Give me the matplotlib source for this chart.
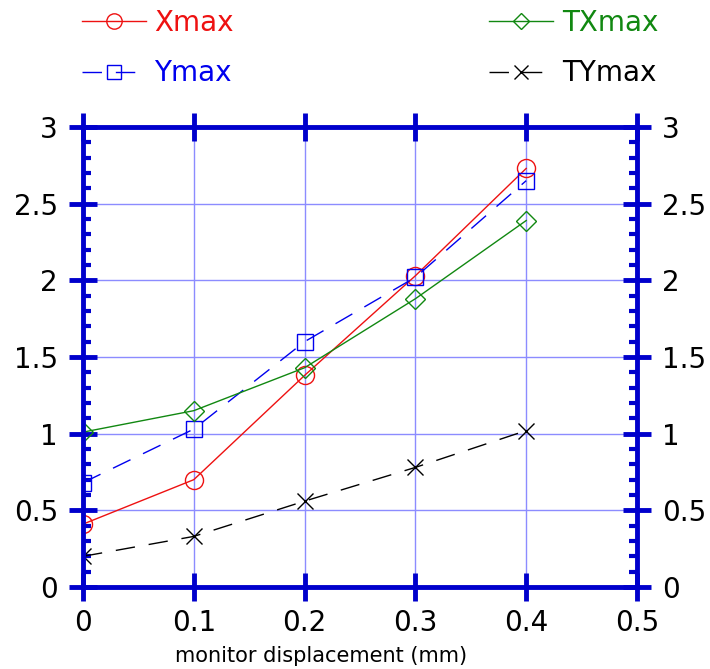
import matplotlib
matplotlib.use("Agg")
import matplotlib.pyplot as plt
from matplotlib.ticker import MultipleLocator

# data
disp = [0.0, 0.1, 0.2, 0.3, 0.4]
xmax = [0.41, 0.70, 1.38, 2.03, 2.73]
ymax = [0.68, 1.03, 1.60, 2.02, 2.65]
txmax = [1.01, 1.15, 1.43, 1.88, 2.39]
tymax = [0.20, 0.33, 0.56, 0.78, 1.02]

plt.rcParams['font.family'] = ['DejaVu Sans']

axis_blue = '#0000cc'

fig = plt.figure(figsize=(7.10, 6.69), dpi=100)
ax = fig.add_axes([83/710, 82/669, (637-83)/710, (587-127)/669])

l1, = ax.plot(disp, xmax, color='#ee1111', lw=1, marker='o', ms=13, mfc='none', mew=1, label='Xmax')
l2, = ax.plot(disp, ymax, color='#0000ee', lw=1, ls=(0, (14, 10)), marker='s', ms=12, mfc='none', mew=1, label='Ymax')
l3, = ax.plot(disp, txmax, color='#118811', lw=1, marker='D', ms=10, mfc='none', mew=1, label='TXmax')
l4, = ax.plot(disp, tymax, color='black', lw=1, ls=(0, (14, 10)), marker='x', ms=12, mew=1, label='TYmax')

ax.set_xlim(0, 0.5)
ax.set_ylim(0, 3)
ax.xaxis.set_major_locator(MultipleLocator(0.1))
ax.yaxis.set_major_locator(MultipleLocator(0.5))
ax.yaxis.set_minor_locator(MultipleLocator(0.1))
ax.yaxis.set_major_formatter(plt.FuncFormatter(lambda v, p: f"{v:g}"))
ax.xaxis.set_major_formatter(plt.FuncFormatter(lambda v, p: f"{v:g}"))

ax.grid(True, which='major', color='#8c8cff', lw=1)
for s in ax.spines.values():
    s.set_color(axis_blue)
    s.set_linewidth(3.5)

ax.tick_params(which='major', direction='inout', length=20, width=3.5, color=axis_blue,
               labelsize=20, top=True, right=True, labelright=True)
ax.tick_params(axis='x', which='major', pad=6)
ax.tick_params(axis='y', which='major', pad=8)
ax.tick_params(which='minor', direction='in', length=6, width=3, color=axis_blue,
               left=True, right=True)

ax.set_xlabel('monitor displacement (mm)', fontsize=15)
ax.xaxis.set_label_coords(0.43, -0.128)

leg = fig.legend(handles=[l1, l2, l3, l4], ncol=2, loc='upper left',
                 bbox_to_anchor=(78/710, 1 - 5/669), frameon=False, fontsize=20,
                 handlelength=2.3, handletextpad=0.3, columnspacing=9.2,
                 labelspacing=0.8, borderaxespad=0.0, borderpad=0.15,
                 markerscale=0.85)
for t, l in zip(leg.get_texts(), [l1, l2, l3, l4]):
    t.set_color(l.get_color())

fig.savefig('out.png', dpi=100)
